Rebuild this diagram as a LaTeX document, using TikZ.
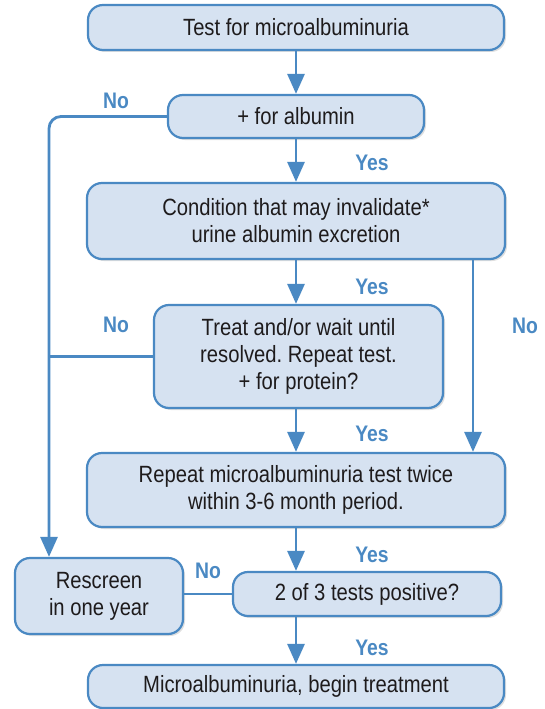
\documentclass[tikz,border=0pt]{standalone}
\usepackage{fontspec}
\setmainfont[FakeStretch=0.86]{Liberation Sans}
\usetikzlibrary{arrows.meta,shadows}
\frenchspacing
\definecolor{boxfill}{HTML}{D6E2F1}
\definecolor{boxline}{HTML}{4A89C3}
\definecolor{txt}{HTML}{1E1B1C}
\tikzset{
  box/.style={draw=boxline, fill=boxfill, line width=2.2pt, rounded corners=15pt,
    align=center, text=txt, font=\fontsize{23.5}{27}\selectfont, inner sep=0pt,
    drop shadow={shadow xshift=2pt, shadow yshift=-2pt, fill=black!25, opacity=0.5}},
  conn/.style={draw=boxline, line width=2.8pt},
  arr/.style={conn, -{Triangle[length=20pt,width=17pt]}},
  lab/.style={text=boxline, font=\fontsize{22.5}{24}\selectfont\bfseries, inner sep=0pt}
}
\begin{document}
\begin{tikzpicture}[x=1pt,y=-1pt]
\useasboundingbox (0,0) rectangle (544,709);
\node[box, minimum width=416pt, minimum height=45pt] (b1) at (296,27.5) {Test for microalbuminuria};
\node[box, minimum width=256pt, minimum height=43pt] (b2) at (296,116.5) {+ for albumin};
\node[box, minimum width=418pt, minimum height=76pt] (b3) at (296,221) {Condition that may invalidate*\\urine albumin excretion};
\node[box, minimum width=289pt, minimum height=103pt] (b4) at (298.5,356.5) {Treat and/or wait until\\resolved. Repeat test.\\+ for protein?};
\node[box, minimum width=418pt, minimum height=74pt] (b5) at (296,490) {Repeat microalbuminuria test twice\\within 3-6 month period.};
\node[box, minimum width=168pt, minimum height=76pt] (b6) at (99,596) {Rescreen\\in one year};
\node[box, minimum width=268pt, minimum height=44pt] (b7) at (367,594) {2 of 3 tests positive?};
\node[box, minimum width=416pt, minimum height=43pt] (b8) at (296,686.5) {Microalbuminuria, begin treatment};

\coordinate (lx) at (49,0);
\coordinate (rx) at (473,0);

\draw[arr] (b1.south) -- (b2.north);
\draw[arr] (b2.south) -- (b3.north);
\draw[arr] (b3.south) -- (b3.south |- b4.north);
\draw[arr] (b3.south |- b4.south) -- (b5.north);
\draw[arr] (b5.south) -- (b5.south |- b7.north);
\draw[arr] (b5.south |- b7.south) -- (b8.north);
\draw[arr] (b3.south -| rx) -- (b5.north -| rx);
\draw[arr, rounded corners=12pt] (b2.west) -- (b2.west -| lx) -- (b6.north -| lx);
\draw[conn] (b4.west) -- (b4.west -| lx);
\draw[conn] (b7.west) -- (b7.west -| b6.east);

\node[lab] (n1) at (116,101) {No};
\node[lab] (y1) at (372,163) {Yes};
\node[lab] (y2) at (372,287) {Yes};
\node[lab] (n2) at (116,325) {No};
\node[lab] (n3) at (525,326) {No};
\node[lab] (y3) at (372,434) {Yes};
\node[lab] (y4) at (372,555) {Yes};
\node[lab] (n4) at (208,571) {No};
\node[lab] (y5) at (372,648) {Yes};
\end{tikzpicture}
\end{document}
